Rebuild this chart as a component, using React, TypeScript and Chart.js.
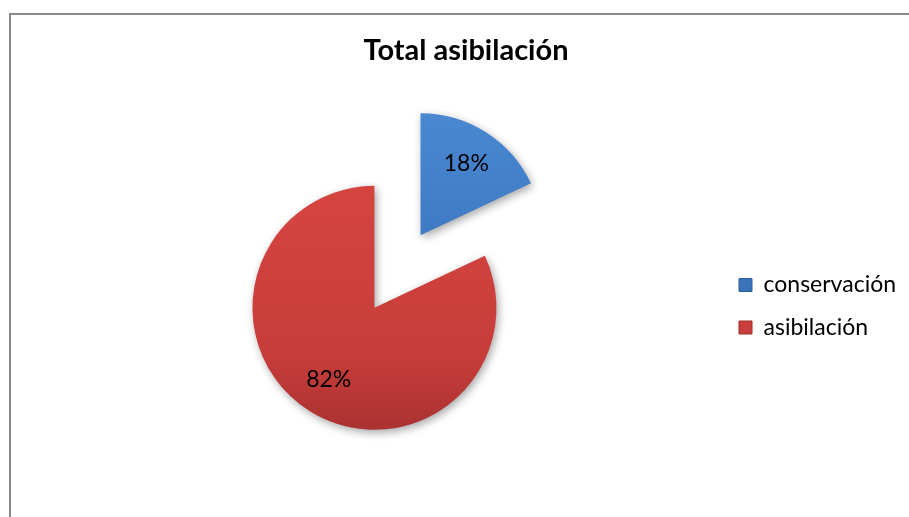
import React, { useEffect, useRef } from 'react';
import { Chart, registerables } from 'chart.js';

Chart.register(...registerables);

// ---- data ----
const categories: string[] = ['conservación', 'asibilación'];
const values: number[] = [18, 82];
const chartTitle = 'Total asibilación';

// ---- style ----
const sliceStops: [number, string][][] = [
  [[0, '#4a88d2'], [0.4, '#3f7bc4'], [1, '#2d5c9c']],
  [[0, '#dc4a45'], [0.25, '#d6443f'], [0.75, '#c73d3a'], [1, '#a83130']],
];
const edgeColors = ['#2f5f9e', '#9c2d2a'];
const FONT = 'Lato, "Noto Sans", sans-serif';
const EXPLODE = 43;
const RADIUS = 122;
const LABEL_R = 0.7;

const W = 910;
const H = 582;
const TITLE_SIZE = 29;
const LEG_SIZE = 23;
const LEG_PAD = 19.5;
const LEG_BOX = 13;
const MARKER_X = 728; // canvas x of the legend markers
const TITLE_CX = 455; // canvas x of the title centre
const PIE_CX = 386.5; // canvas x of the un-exploded pie centre

const explodePlugin = {
  id: 'explodeAndLabels',
  afterDatasetsUpdate(chart: any) {
    const meta = chart.getDatasetMeta(0);
    meta.data.forEach((arc: any) => {
      const mid = (arc.startAngle + arc.endAngle) / 2;
      arc.x += Math.cos(mid) * EXPLODE;
      arc.y += Math.sin(mid) * EXPLODE;
    });
  },
  beforeDatasetsDraw(chart: any) {
    const ctx = chart.ctx;
    ctx.save();
    ctx.shadowColor = 'rgba(0,0,0,0.35)';
    ctx.shadowBlur = 8;
    ctx.shadowOffsetX = 2;
    ctx.shadowOffsetY = 3;
  },
  afterDatasetsDraw(chart: any) {
    const ctx = chart.ctx;
    ctx.restore();
    const meta = chart.getDatasetMeta(0);
    const data = chart.data.datasets[0].data as number[];
    const total = data.reduce((a, b) => a + b, 0);
    ctx.save();
    ctx.font = LEG_SIZE + 'px ' + FONT;
    ctx.fillStyle = '#000000';
    ctx.textAlign = 'center';
    ctx.textBaseline = 'middle';
    meta.data.forEach((arc: any, i: number) => {
      const mid = (arc.startAngle + arc.endAngle) / 2;
      const r = arc.outerRadius * LABEL_R;
      const pct = Math.round((data[i] / total) * 100) + '%';
      ctx.fillText(pct, arc.x + Math.cos(mid) * r, arc.y + Math.sin(mid) * r);
    });
    ctx.restore();
  },
};

export default function App() {
  const ref = useRef<HTMLCanvasElement | null>(null);

  useEffect(() => {
    const canvas = ref.current;
    if (!canvas) return;

    // measure the legend so the title, pie and legend land where the original has them
    const mctx = canvas.getContext('2d') as CanvasRenderingContext2D;
    mctx.font = LEG_SIZE + 'px ' + FONT;
    const textW = Math.max(...categories.map((c) => mctx.measureText(c).width));
    const legendW = LEG_PAD + LEG_BOX + LEG_SIZE / 2 + textW + 10;
    const legendLeft = MARKER_X - LEG_PAD;
    const sidePad = 2 * TITLE_CX - legendLeft - legendW - (W - 2 * TITLE_CX);
    const pl = Math.max(sidePad, 0);
    const leftSpacer = Math.max(2 * PIE_CX - legendLeft - pl, 12);

    const titleLine = TITLE_SIZE * 1.2;
    const titlePadTop = 18.7;
    const titlePadBottom = 10;
    const titleH = titlePadTop + titleLine + titlePadBottom;
    const plotBottom = 2 * 256.5 - titleH; // pie centre at canvas y 256.5
    const bottomPad = H - plotBottom;
    const legendTitleH = 2 * 291.25 - plotBottom; // legend rows centred at canvas y 291.25

    const chart = new Chart(canvas, {
      type: 'pie',
      data: {
        labels: categories,
        datasets: [
          {
            data: values,
            borderWidth: 0,
            radius: RADIUS,
            backgroundColor: (c: any) => {
              const i = c.dataIndex ?? 0;
              const area = c.chart.chartArea;
              if (!area) return sliceStops[i][1][1];
              const cy = (area.top + area.bottom) / 2;
              const g = c.chart.ctx.createLinearGradient(0, cy - RADIUS - EXPLODE, 0, cy + RADIUS + EXPLODE);
              sliceStops[i].forEach(([o, col]) => g.addColorStop(o, col));
              return g;
            },
          } as any,
        ],
      },
      options: {
        responsive: false,
        maintainAspectRatio: false,
        animation: false,
        devicePixelRatio: 1,
        layout: { padding: { left: pl, right: pl, top: 0, bottom: bottomPad } },
        plugins: {
          title: {
            display: true,
            text: chartTitle,
            color: '#000000',
            font: { family: FONT, size: TITLE_SIZE, weight: 'bold' },
            padding: { top: titlePadTop, bottom: titlePadBottom },
          },
          subtitle: {
            display: true,
            text: '',
            position: 'left',
            font: { family: FONT, size: 10 },
            padding: { top: 0, bottom: leftSpacer - 12 },
          },
          legend: {
            display: true,
            position: 'right',
            title: {
              display: true,
              text: '',
              font: { family: FONT, size: 10 },
              padding: { top: legendTitleH - 12, bottom: 0 },
            },
            labels: {
              color: '#000000',
              font: { family: FONT, size: LEG_SIZE },
              boxWidth: LEG_BOX,
              boxHeight: LEG_BOX,
              padding: LEG_PAD,
              generateLabels: (ch: any) => {
                const items = (Chart as any).overrides.pie.plugins.legend.labels.generateLabels(ch);
                return items.map((it: any, i: number) => ({
                  ...it,
                  strokeStyle: edgeColors[i],
                  lineWidth: 1,
                }));
              },
            },
          },
          tooltip: { enabled: false },
        },
      } as any,
      plugins: [explodePlugin],
    });
    return () => chart.destroy();
  }, []);

  return (
    <div
      style={{
        position: 'absolute',
        left: 9,
        top: 13,
        width: 900,
        height: 504,
        boxSizing: 'border-box',
        borderLeft: '2px solid #8a8a8a',
        borderTop: '2px solid #8a8a8a',
        overflow: 'hidden',
        background: '#ffffff',
      }}
    >
      <canvas ref={ref} width={W} height={H} style={{ display: 'block', width: W, height: H }} />
    </div>
  );
}
